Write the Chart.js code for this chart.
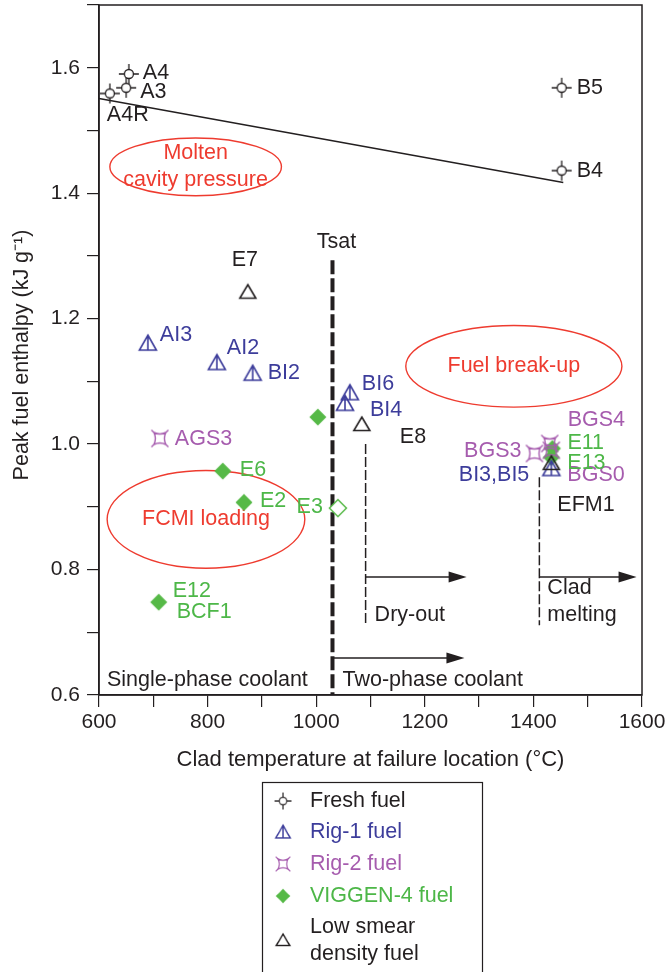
<!DOCTYPE html>
<html>
<head>
<meta charset="utf-8">
<script src="https://cdn.jsdelivr.net/npm/chart.js@4.4.1/dist/chart.umd.min.js"></script>
<style>
html, body { margin: 0; padding: 0; background: #fff; }
</style>
</head>
<body>
<canvas id="myChart" width="668" height="972"></canvas>
<script>
// values
const freshNames = ['A4', 'A3', 'A4R', 'B5', 'B4'];
const freshX = [655, 650, 620, 1452, 1452];
const freshY = [1.590, 1.568, 1.559, 1.568, 1.436];

const rig1Names = ['AI3', 'AI2', 'BI2', 'BI6', 'BI4', 'BI3,BI5'];
const rig1X = [690, 817, 883, 1062, 1053, 1433];
const rig1Y = [1.161, 1.130, 1.113, 1.082, 1.065, 0.961];

const rig2Names = ['AGS3', 'BGS3', 'BGS4', 'BGS0'];
const rig2X = [712, 1402, 1430, 1433];
const rig2Y = [1.009, 0.985, 1.001, 0.990];

const viggenNames = ['', 'E6', 'E2', 'E12', 'E11', 'E13', 'E3'];
const viggenX = [1003, 828, 867, 710, 1435, 1433, 1040];
const viggenY = [1.043, 0.957, 0.907, 0.748, 0.993, 0.979, 0.898];

const lowNames = ['E7', 'E8', 'EFM1'];
const lowX = [874, 1084, 1433];
const lowY = [1.243, 1.032, 0.970];

const freshLineX = [600, 1455];
const freshLineY = [1.551, 1.417];
const tsat = 1030;
const dryOut = 1091;
const cladMelt = 1411;

const xTicks = [600, 800, 1000, 1200, 1400, 1600];
const yTicks = [0.6, 0.8, 1.0, 1.2, 1.4, 1.6];

const BLACK = '#231f20';
const BLUE = '#3d3d9b';
const PURPLE = '#a65cae';
const GREEN = '#56b947';
const GREEN_TXT = '#4db748';
const RED = '#ee3b2f';
const FONT = 'Liberation Sans, Arial, sans-serif';
const TXT = '21.5px ' + FONT;

// label placement: dataset, point, text, dx, dy, align
const pointLabels = [
    [0, 0, 'A4', 14, -1, 'left'], [0, 1, 'A3', 14, 4, 'left'], [0, 2, 'A4R', -3, 22, 'left'],
    [0, 3, 'B5', 15, 0, 'left'], [0, 4, 'B4', 15, 0, 'left'],
    [1, 0, 'E7', -3, -32, 'center'], [1, 1, 'E8', 38, 13, 'left'], [1, 2, 'EFM1', 6, 42, 'left'],
    [2, 0, 'AI3', 12, -8, 'left'], [2, 1, 'AI2', 10, -14, 'left'], [2, 2, 'BI2', 15, 0, 'left'],
    [2, 3, 'BI6', 12, -9, 'left'], [2, 4, 'BI4', 25, 7, 'left'], [2, 5, 'BI3,BI5', -22, 7, 'right'],
    [3, 0, 'AGS3', 15, 1, 'left'], [3, 1, 'BGS3', -13, -2, 'right'], [3, 2, 'BGS4', 18, -23, 'left'],
    [3, 3, 'BGS0', 16, 25, 'left'],
    [4, 1, 'E6', 17, -1, 'left'], [4, 2, 'E2', 16, -1, 'left'], [4, 3, 'E12', 14, -11, 'left'],
    [4, 3, 'BCF1', 18, 10, 'left'], [4, 4, 'E11', 15, -5, 'left'], [4, 5, 'E13', 16, 6, 'left'],
    [4, 6, 'E3', -15, -1, 'right']
];

function makeMarker(draw) {
    var c = document.createElement('canvas');
    c.width = 26;
    c.height = 26;
    var g = c.getContext('2d');
    g.translate(13, 13);
    draw(g);
    return c;
}

var freshMarker = makeMarker(function (g) {
    g.strokeStyle = BLACK;
    g.lineWidth = 1.3;
    g.beginPath();
    g.moveTo(-10, 0); g.lineTo(-4.5, 0);
    g.moveTo(4.5, 0); g.lineTo(10, 0);
    g.moveTo(0, -10); g.lineTo(0, -4.5);
    g.moveTo(0, 4.5); g.lineTo(0, 10);
    g.stroke();
    g.beginPath();
    g.arc(0, 0, 4.5, 0, Math.PI * 2);
    g.fillStyle = '#fff';
    g.fill();
    g.stroke();
});

var rig1Marker = makeMarker(function (g) {
    g.strokeStyle = BLUE;
    g.lineWidth = 1.6;
    g.beginPath();
    g.moveTo(0, -8); g.lineTo(8.5, 7); g.lineTo(-8.5, 7); g.closePath();
    g.moveTo(0, -8); g.lineTo(0, 7);
    g.stroke();
});

var rig2Marker = makeMarker(function (g) {
    g.strokeStyle = PURPLE;
    g.lineWidth = 1.4;
    g.beginPath();
    g.moveTo(-6, -6);
    g.quadraticCurveTo(0, -3, 6, -6);
    g.quadraticCurveTo(3, 0, 6, 6);
    g.quadraticCurveTo(0, 3, -6, 6);
    g.quadraticCurveTo(-3, 0, -6, -6);
    g.moveTo(-6, -6); g.lineTo(-8.5, -8.5);
    g.moveTo(6, -6); g.lineTo(8.5, -8.5);
    g.moveTo(6, 6); g.lineTo(8.5, 8.5);
    g.moveTo(-6, 6); g.lineTo(-8.5, 8.5);
    g.stroke();
});

function diamond(fill) {
    return makeMarker(function (g) {
        g.beginPath();
        g.moveTo(0, -8.5); g.lineTo(8.5, 0); g.lineTo(0, 8.5); g.lineTo(-8.5, 0); g.closePath();
        if (fill) {
            g.fillStyle = GREEN;
            g.fill();
        } else {
            g.fillStyle = '#fff';
            g.fill();
            g.strokeStyle = GREEN;
            g.lineWidth = 1.5;
            g.stroke();
        }
    });
}
var viggenMarker = diamond(true);
var viggenHollow = diamond(false);

var lowMarker = makeMarker(function (g) {
    g.strokeStyle = BLACK;
    g.lineWidth = 1.6;
    g.beginPath();
    g.moveTo(0, -7); g.lineTo(8, 6.5); g.lineTo(-8, 6.5); g.closePath();
    g.stroke();
});

function toPoints(xs, ys) {
    return xs.map(function (x, i) { return { x: x, y: ys[i] }; });
}

function drawArrow(ctx, x1, y, x2) {
    ctx.beginPath();
    ctx.moveTo(x1, y);
    ctx.lineTo(x2 - 14, y);
    ctx.stroke();
    ctx.beginPath();
    ctx.moveTo(x2, y);
    ctx.lineTo(x2 - 18, y - 5.5);
    ctx.lineTo(x2 - 18, y + 5.5);
    ctx.closePath();
    ctx.fill();
}

const overlay = {
    id: 'overlay',
    beforeDatasetsDraw: function (chart) {
        var ctx = chart.ctx;
        var sx = chart.scales.x, sy = chart.scales.y;
        var X = function (v) { return sx.getPixelForValue(v); };
        var Y = function (v) { return sy.getPixelForValue(v); };
        ctx.save();
        ctx.strokeStyle = BLACK;
        ctx.fillStyle = BLACK;

        // fresh fuel limit line
        ctx.lineWidth = 1.4;
        ctx.beginPath();
        ctx.moveTo(X(freshLineX[0]), Y(freshLineY[0]));
        ctx.lineTo(X(freshLineX[1]), Y(freshLineY[1]));
        ctx.stroke();

        // Tsat
        ctx.lineWidth = 4;
        ctx.setLineDash([14, 4]);
        ctx.beginPath();
        ctx.moveTo(X(tsat), Y(1.293));
        ctx.lineTo(X(tsat), Y(0.6));
        ctx.stroke();

        // dry-out and clad melting
        ctx.lineWidth = 1.5;
        ctx.setLineDash([10, 3]);
        ctx.beginPath();
        ctx.moveTo(X(dryOut), Y(1.0));
        ctx.lineTo(X(dryOut), Y(0.711));
        ctx.moveTo(X(cladMelt), Y(0.947));
        ctx.lineTo(X(cladMelt), Y(0.711));
        ctx.stroke();
        ctx.setLineDash([]);
        drawArrow(ctx, X(dryOut), Y(0.788), X(1277));
        drawArrow(ctx, X(cladMelt), Y(0.788), X(1590));
        drawArrow(ctx, X(tsat), Y(0.659), X(1273));

        // regions
        ctx.strokeStyle = RED;
        ctx.lineWidth = 1.4;
        [[778, 1.442, 158, 0.046], [1364, 1.124, 199, 0.065], [797, 0.880, 182, 0.078]].forEach(function (e) {
            ctx.beginPath();
            ctx.ellipse(X(e[0]), Y(e[1]), X(e[0] + e[2]) - X(e[0]), Y(e[1]) - Y(e[1] + e[3]), 0, 0, Math.PI * 2);
            ctx.stroke();
        });

        ctx.font = TXT;
        ctx.textBaseline = 'middle';
        ctx.fillStyle = RED;
        ctx.textAlign = 'center';
        ctx.fillText('Molten', X(778), Y(1.464));
        ctx.fillText('cavity pressure', X(778), Y(1.421));
        ctx.fillText('Fuel break-up', X(1364), Y(1.124));
        ctx.fillText('FCMI loading', X(797), Y(0.880));

        ctx.fillStyle = BLACK;
        ctx.fillText('Tsat', X(tsat) + 4, Y(1.322));
        ctx.textAlign = 'left';
        ctx.fillText('Dry-out', X(dryOut) + 9, Y(0.728));
        ctx.fillText('Clad', X(cladMelt) + 8, Y(0.771));
        ctx.fillText('melting', X(cladMelt) + 8, Y(0.728));
        ctx.fillText('Single-phase coolant', X(600) + 8, Y(0.623));
        ctx.fillText('Two-phase coolant', X(tsat) + 10, Y(0.623));
        ctx.restore();
    },
    afterDatasetsDraw: function (chart) {
        var ctx = chart.ctx;
        var colors = [BLACK, BLACK, BLUE, PURPLE, GREEN_TXT];
        ctx.save();
        ctx.font = TXT;
        ctx.textBaseline = 'middle';
        pointLabels.forEach(function (l) {
            var el = chart.getDatasetMeta(l[0]).data[l[1]];
            ctx.fillStyle = colors[l[0]];
            ctx.textAlign = l[5];
            ctx.fillText(l[2], el.x + l[3], el.y + l[4]);
        });
        ctx.restore();
    },
    afterDraw: function (chart) {
        var ctx = chart.ctx;
        var a = chart.chartArea;
        ctx.save();
        ctx.strokeStyle = BLACK;
        ctx.lineWidth = 1.5;
        ctx.strokeRect(a.left, a.top, a.right - a.left, a.bottom - a.top);

        // y axis title
        ctx.save();
        ctx.translate(22, 355);
        ctx.rotate(-Math.PI / 2);
        ctx.font = TXT;
        ctx.fillStyle = BLACK;
        ctx.textAlign = 'center';
        ctx.textBaseline = 'middle';
        ctx.fillText('Peak fuel enthalpy (kJ g⁻¹)', 0, 0);
        ctx.restore();

        // legend
        ctx.lineWidth = 1.2;
        ctx.strokeRect(262.5, 782.5, 220, 200);
        var items = [
            [freshMarker, 'Fresh fuel', BLACK, 801],
            [rig1Marker, 'Rig-1 fuel', BLUE, 832],
            [rig2Marker, 'Rig-2 fuel', PURPLE, 864],
            [viggenMarker, 'VIGGEN-4 fuel', GREEN_TXT, 896]
        ];
        ctx.font = TXT;
        ctx.textBaseline = 'middle';
        ctx.textAlign = 'left';
        items.forEach(function (it) {
            ctx.drawImage(it[0], 283 - 11, it[3] - 11, 22, 22);
            ctx.fillStyle = it[2];
            ctx.fillText(it[1], 310, it[3]);
        });
        ctx.drawImage(lowMarker, 283 - 11, 940 - 11, 22, 22);
        ctx.fillStyle = BLACK;
        ctx.fillText('Low smear', 310, 927);
        ctx.fillText('density fuel', 310, 954);
        ctx.restore();
    }
};

Chart.defaults.font.family = FONT;
Chart.defaults.color = BLACK;

var ctx = document.getElementById('myChart');
new Chart(ctx, {
    type: 'scatter',
    data: {
        datasets: [
            { label: 'Fresh fuel', data: toPoints(freshX, freshY), pointStyle: freshMarker },
            { label: 'Low smear density fuel', data: toPoints(lowX, lowY), pointStyle: lowMarker },
            { label: 'Rig-1 fuel', data: toPoints(rig1X, rig1Y), pointStyle: rig1Marker },
            { label: 'Rig-2 fuel', data: toPoints(rig2X, rig2Y), pointStyle: rig2Marker },
            {
                label: 'VIGGEN-4 fuel',
                data: toPoints(viggenX, viggenY),
                pointStyle: viggenNames.map(function (n) { return n === 'E3' ? viggenHollow : viggenMarker; })
            }
        ]
    },
    options: {
        responsive: false,
        animation: false,
        layout: { padding: { left: 8, top: 5, right: 26, bottom: 197 } },
        plugins: { legend: { display: false }, tooltip: { enabled: false } },
        scales: {
            x: {
                type: 'linear',
                min: 600,
                max: 1600,
                afterFit: function (s) { s.height = 80; s.paddingLeft = 0; s.paddingRight = 0; },
                ticks: {
                    stepSize: 100,
                    autoSkip: false,
                    maxRotation: 0,
                    padding: 3,
                    color: BLACK,
                    font: { size: 21 },
                    callback: function (v) { return xTicks.indexOf(v) >= 0 ? String(v) : ''; }
                },
                grid: { drawOnChartArea: false, drawTicks: true, tickLength: 12, color: BLACK, lineWidth: 1.2 },
                border: { display: true, color: BLACK, width: 1.5 },
                title: { display: true, text: 'Clad temperature at failure location (°C)', color: BLACK, font: { size: 22 }, padding: { top: 2, bottom: 2 } }
            },
            y: {
                type: 'linear',
                min: 0.6,
                max: 1.7,
                afterFit: function (s) { s.width = 91; s.paddingTop = 0; s.paddingBottom = 0; },
                ticks: {
                    stepSize: 0.1,
                    autoSkip: false,
                    padding: 7,
                    color: BLACK,
                    font: { size: 21 },
                    callback: function (v) {
                        var r = Math.round(v * 10) / 10;
                        return yTicks.indexOf(r) >= 0 ? r.toFixed(1) : '';
                    }
                },
                grid: { drawOnChartArea: false, drawTicks: true, tickLength: 12, color: BLACK, lineWidth: 1.2 },
                border: { display: true, color: BLACK, width: 1.5 },
                title: { display: false }
            }
        }
    },
    plugins: [overlay]
});
</script>
</body>
</html>
